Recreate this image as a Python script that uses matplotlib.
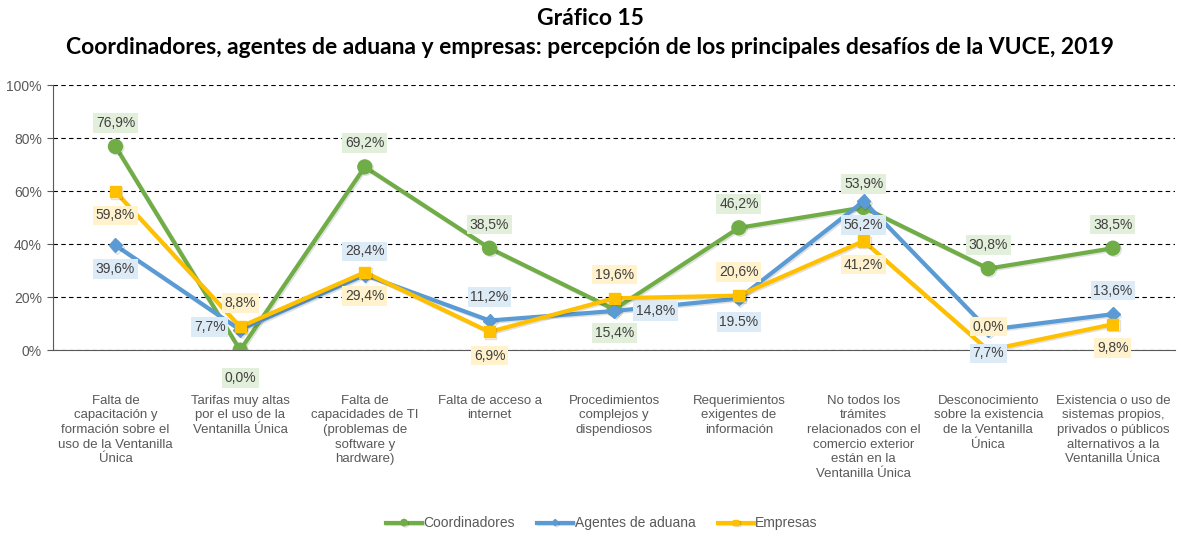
import matplotlib
matplotlib.use("Agg")
import matplotlib.pyplot as plt
import matplotlib.patheffects as pe
import numpy as np

categorias = [
    "Falta de\ncapacitación y\nformación sobre el\nuso de la Ventanilla\nÚnica",
    "Tarifas muy altas\npor el uso de la\nVentanilla Única",
    "Falta de\ncapacidades de TI\n(problemas de\nsoftware y\nhardware)",
    "Falta de acceso a\ninternet",
    "Procedimientos\ncomplejos y\ndispendiosos",
    "Requerimientos\nexigentes de\ninformación",
    "No todos los\ntrámites\nrelacionados con el\ncomercio exterior\nestán en la\nVentanilla Única",
    "Desconocimiento\nsobre la existencia\nde la Ventanilla\nÚnica",
    "Existencia o uso de\nsistemas propios,\nprivados o públicos\nalternativos a la\nVentanilla Única",
]

coordinadores = [76.9, 0.0, 69.2, 38.5, 15.4, 46.2, 53.9, 30.8, 38.5]
agentes = [39.6, 7.7, 28.4, 11.2, 14.8, 19.5, 56.2, 7.7, 13.6]
empresas = [59.8, 8.8, 29.4, 6.9, 19.6, 20.6, 41.2, 0.0, 9.8]

# texto de las etiquetas tal como aparece en el original
etq_coord = ["76,9%", "0,0%", "69,2%", "38,5%", "15,4%", "46,2%", "53,9%", "30,8%", "38,5%"]
etq_agentes = ["39,6%", "7,7%", "28,4%", "11,2%", "14,8%", "19.5%", "56,2%", "7,7%", "13,6%"]
etq_empresas = ["59,8%", "8,8%", "29,4%", "6,9%", "19,6%", "20,6%", "41,2%", "0,0%", "9,8%"]

# posicion de cada etiqueta respecto al punto
pos_coord = ["a", "b", "a", "a", "b", "a", "a", "a", "a"]
pos_agentes = ["b", "l", "a", "a", "r", "b", "b", "b", "a"]
pos_empresas = ["b", "a", "b", "b", "a", "a", "b", "a", "b"]

gris = "#595959"
plt.rcParams['font.family'] = ['Liberation Sans', 'DejaVu Sans']

fig = plt.figure(figsize=(11.8, 5.33), dpi=100)
ax = fig.add_axes([0.045, 0.343, 0.951, 0.497])

x = np.arange(len(categorias))
sombra = [pe.SimpleLineShadow(offset=(1, -1), alpha=0.12), pe.Normal()]

series = [
    (coordinadores, etq_coord, pos_coord, "Coordinadores", "#70AD47", "#E2EFDA", "o", 10),
    (agentes, etq_agentes, pos_agentes, "Agentes de aduana", "#5B9BD5", "#DDEBF7", "D", 7),
    (empresas, etq_empresas, pos_empresas, "Empresas", "#FFC000", "#FFF2CC", "s", 8),
]

offs = {"a": (0, 17), "b": (0, -17), "l": (-22, 2), "r": (30, 0)}

for vals, etqs, poss, nombre, color, fondo, mk, ms in series:
    ax.plot(x, vals, color=color, lw=3, marker=mk, ms=ms, label=nombre,
            path_effects=sombra, zorder=3)
    for xi, v, t, p in zip(x, vals, etqs, poss):
        dx, dy = offs[p]
        if p == "b" and v == 0.0 and nombre == "Coordinadores":
            dy = -20
        ax.annotate(t, (xi, v), xytext=(dx, dy), textcoords="offset points",
                    ha="center", va="center", fontsize=10, color="#404040",
                    bbox=dict(boxstyle="square,pad=0.2", fc=fondo, ec="none"),
                    zorder=5)

ax.set_xlim(-0.5, len(categorias) - 0.5)
ax.set_ylim(0, 100)
ax.set_yticks([0, 20, 40, 60, 80, 100])
ax.set_yticklabels([f"{v}%" for v in [0, 20, 40, 60, 80, 100]])
ax.set_xticks(x)
ax.set_xticklabels(categorias, fontsize=9.5, color=gris, va="top", linespacing=1.3)
ax.tick_params(axis="x", length=0, pad=32)
ax.tick_params(axis="y", length=4, color=gris, labelsize=10, labelcolor=gris, pad=4)
ax.yaxis.grid(True, color="black", ls=(0, (4, 3)), lw=0.8)
ax.set_axisbelow(True)
for s in ["top", "right"]:
    ax.spines[s].set_visible(False)
ax.spines["left"].set_color(gris)
ax.spines["bottom"].set_color(gris)

fig.text(0.5, 0.965, "Gráfico 15", ha="center", va="center", fontsize=16.5,
         fontweight="bold", family="Lato")
fig.text(0.5, 0.91, "Coordinadores, agentes de aduana y empresas: percepción de los principales desafíos de la VUCE, 2019",
         ha="center", va="center", fontsize=16.5, fontweight="bold", family="Lato")

fig.legend(loc="center", bbox_to_anchor=(0.51, 0.018), ncol=3, frameon=False,
           fontsize=10, labelcolor=gris, handlelength=2.6, markerscale=0.45,
           handletextpad=0.1, columnspacing=1.6)

fig.savefig("out.png", dpi=100)
